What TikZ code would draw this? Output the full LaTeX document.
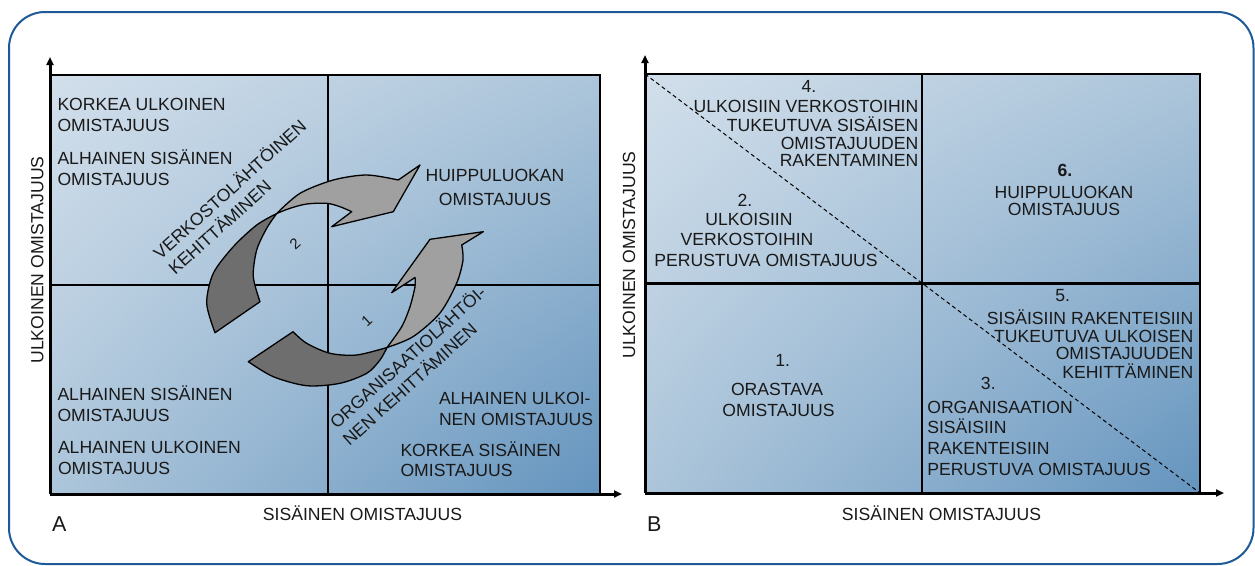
\documentclass[tikz,border=0pt]{standalone}
\usepackage{fontspec}
\setmainfont{Liberation Sans}
\usetikzlibrary{arrows.meta,shadings}
\definecolor{frameblue}{RGB}{31,90,152}
\definecolor{gtl}{RGB}{210,223,235}
\definecolor{gmid}{RGB}{172,197,218}
\definecolor{gbr}{RGB}{100,148,190}
\definecolor{arrdark}{RGB}{110,110,110}
\definecolor{arrlight}{RGB}{160,160,160}
\definecolor{inkc}{RGB}{25,25,25}
\newcommand{\fsz}{\fontsize{17.6}{21}\selectfont}
\newcommand{\UC}[1]{\MakeUppercase{#1}}
\begin{document}
\begin{tikzpicture}[x=1pt,y=-1pt,
  txt/.style={inner sep=0pt, outer sep=0pt, font=\fsz, text=inkc},
  bigtxt/.style={inner sep=0pt, outer sep=0pt, font=\fontsize{21.5}{24}\selectfont, text=inkc},
  numtxt/.style={inner sep=0pt, outer sep=0pt, font=\fontsize{15}{18}\selectfont, text=inkc},
  gridline/.style={line width=2.7pt, black},
  axisline/.style={line width=3pt, black, -{Triangle[length=8pt,width=7pt]}},
  diagline/.style={line width=1pt, black, dash pattern=on 4pt off 3pt},
  arrowpart/.style={draw=black, line width=1.3pt, line join=round},
  chartbg/.style={upper left=gtl, upper right=gmid, lower left=gmid, lower right=gbr}
]
\useasboundingbox (0,0) rectangle (1255,565);
\fill[white] (0,0) rectangle (1255,565);
\draw[frameblue, line width=2pt, rounded corners=36pt] (9,12) rectangle (1253.5,564);

% ---------------- Chart A ----------------
\shade[chartbg] (50,75) rectangle (600,494);
\draw[gridline] (50,75) -- (600,75) -- (600,494);
\draw[gridline] (328,75) -- (328,494);
\draw[gridline] (50,285) -- (600,285);
\coordinate (Ao) at (50,494);
\coordinate (Ay) at (50,57);
\coordinate (Ax) at (622,494);
\draw[axisline] (Ao) -- (Ay);
\draw[axisline] (Ao) -- (Ax);

% arrow 2 (upper)
\draw[arrowpart, fill=arrdark] (215,332.7) -- plot[smooth] coordinates {(260,301.7) (253.3,276.7) (256.7,250) (266.7,228.3) (276.7,213.5)} -- plot[smooth] coordinates {(276.7,213.5) (256.7,225) (233.3,246.7) (213.3,273.3) (206.7,303.3) (215,332.7)} -- cycle;
\draw[arrowpart, fill=arrlight] plot[smooth] coordinates {(276.7,213.5) (300,193.3) (333.3,180) (366.7,175) (398.3,180)} -- (420,165) -- (393.3,211.7) -- (331.7,226.7) -- plot[smooth] coordinates {(351.7,211.7) (340,206.7) (326.7,203.3) (306.7,204) (290,208.3) (276.7,213.5)} -- cycle;
% arrow 1 (lower)
\draw[arrowpart, fill=arrdark] (248.3,361.7) -- plot[smooth] coordinates {(293,331.7) (306.7,343.3) (330,353.3) (356.7,355) (387,347.5)} -- plot[smooth] coordinates {(387,347.5) (380,360) (366.7,373.3) (340,383.3) (306.7,385.7) (273.3,376.7) (248.3,361.7)} -- cycle;
\draw[arrowpart, fill=arrlight] plot[smooth] coordinates {(387,347.5) (401.7,326.7) (410,306.7) (415,286.7) (415,277.5)} -- (391.7,292.7) -- (430,239.3) -- (483.3,231.7) -- plot[smooth] coordinates {(461.7,245) (463,260) (456.7,283) (440,313) (413,336.7) (387,347.5)} -- cycle;
\node[numtxt, rotate=42] (n2) at (295,244) {2};
\node[numtxt, rotate=42] (n1) at (366.7,321) {1};

\node[txt, anchor=base west] (a1) at (57.5,110.7) {\UC{KORKEA ULKOINEN}};
\node[txt, anchor=base west] (a2) at (57.5,131.7) {\UC{OMISTAJUUS}};
\node[txt, anchor=base west] (a3) at (57.5,164) {\UC{ALHAINEN SISÄINEN}};
\node[txt, anchor=base west] (a4) at (57.5,185) {\UC{OMISTAJUUS}};
\node[txt, anchor=base] (a5) at (495,181.7) {\UC{HUIPPULUOKAN}};
\node[txt, anchor=base] (a6) at (495,205) {\UC{OMISTAJUUS}};
\node[txt, anchor=base west] (a7) at (57.5,400) {\UC{ALHAINEN SISÄINEN}};
\node[txt, anchor=base west] (a8) at (57.5,421.7) {\UC{OMISTAJUUS}};
\node[txt, anchor=base west] (a9) at (58,453) {\UC{ALHAINEN ULKOINEN}};
\node[txt, anchor=base west] (a10) at (58,474) {\UC{OMISTAJUUS}};
\node[txt, anchor=base west] (a11) at (439,404) {\UC{ALHAINEN ULKOI-}};
\node[txt, anchor=base west] (a12) at (439,425) {\UC{NEN OMISTAJUUS}};
\node[txt, anchor=base west] (a13) at (400.5,456) {\UC{KORKEA SISÄINEN}};
\node[txt, anchor=base west] (a14) at (400.5,476.7) {\UC{OMISTAJUUS}};
\node[txt, anchor=base, rotate=42] (r1) at (234,194) {\UC{VERKOSTOLÄHTÖINEN}};
\node[txt, anchor=base, rotate=42] (r2) at (224,232) {\UC{KEHITTÄMINEN}};
\node[txt, anchor=base, rotate=42] (r3) at (412,362) {\UC{ORGANISAATIOLÄHTÖI-}};
\node[txt, anchor=base, rotate=42] (r4) at (414,389) {\UC{NEN KEHITTÄMINEN}};
\node[txt, anchor=base] (ax) at (362.5,520.7) {\UC{SISÄINEN OMISTAJUUS}};
\node[txt, anchor=base, rotate=90] (ay) at (43.3,260) {\UC{ULKOINEN OMISTAJUUS}};
\node[bigtxt, anchor=base west] (labA) at (52,531.7) {A};

% ---------------- Chart B ----------------
\shade[chartbg] (645,74) rectangle (1200,493);
\draw[gridline] (645,74) -- (1200,74) -- (1200,493);
\draw[gridline] (922,74) -- (922,493);
\draw[gridline] (645,283.5) -- (1200,283.5);
\coordinate (Bo) at (645,493);
\coordinate (By) at (645,55);
\coordinate (Bx) at (1224,493);
\coordinate (Btl) at (645,74);
\coordinate (Bbr) at (1200,493);
\draw[diagline] (Btl) -- (Bbr);
\draw[axisline] (Bo) -- (By);
\draw[axisline] (Bo) -- (Bx);

\node[txt, anchor=base] (b4) at (809,92.7) {4.};
\node[txt, anchor=base east] (b4a) at (918.3,112) {\UC{ULKOISIIN VERKOSTOIHIN}};
\node[txt, anchor=base east] (b4b) at (918.3,131) {\UC{TUKEUTUVA SISÄISEN}};
\node[txt, anchor=base east] (b4c) at (918.3,149.3) {\UC{OMISTAJUUDEN}};
\node[txt, anchor=base east] (b4d) at (918.3,166.7) {\UC{RAKENTAMINEN}};

\node[txt, anchor=base] (b2) at (745,206.7) {2.};
\node[txt, anchor=base] (b2a) at (749,225) {\UC{ULKOISIIN}};
\node[txt, anchor=base] (b2b) at (747,245) {\UC{VERKOSTOIHIN}};
\node[txt, anchor=base] (b2c) at (766,266) {\UC{PERUSTUVA OMISTAJUUS}};

\node[txt, anchor=base, font=\fsz\bfseries] (b6) at (1065,176.7) {6.};
\node[txt, anchor=base] (b6a) at (1064,198.3) {\UC{HUIPPULUOKAN}};
\node[txt, anchor=base] (b6b) at (1064,215) {\UC{OMISTAJUUS}};

\node[txt, anchor=base] (b1) at (782.7,366) {1.};
\node[txt, anchor=base] (b1a) at (777,395) {\UC{ORASTAVA}};
\node[txt, anchor=base] (b1b) at (778.5,416.7) {\UC{OMISTAJUUS}};

\node[txt, anchor=base] (b5) at (1062.7,301.3) {5.};
\node[txt, anchor=base east] (b5a) at (1193.3,324) {\UC{SISÄISIIN RAKENTEISIIN}};
\node[txt, anchor=base east] (b5b) at (1193.3,342) {\UC{TUKEUTUVA ULKOISEN}};
\node[txt, anchor=base east] (b5c) at (1193.3,359.7) {\UC{OMISTAJUUDEN}};
\node[txt, anchor=base east] (b5d) at (1193.3,378.7) {\UC{KEHITTÄMINEN}};

\node[txt, anchor=base] (b3) at (988.3,389.3) {3.};
\node[txt, anchor=base west] (b3a) at (927.3,413.3) {\UC{ORGANISAATION}};
\node[txt, anchor=base west] (b3b) at (927.3,433.3) {\UC{SISÄISIIN}};
\node[txt, anchor=base west] (b3c) at (927.3,454.3) {\UC{RAKENTEISIIN}};
\node[txt, anchor=base west] (b3d) at (927.3,475) {\UC{PERUSTUVA OMISTAJUUS}};

\node[txt, anchor=base] (bx) at (941.5,520) {\UC{SISÄINEN OMISTAJUUS}};
\node[txt, anchor=base, rotate=90] (by) at (635,255) {\UC{ULKOINEN OMISTAJUUS}};
\node[bigtxt, anchor=base west] (labB) at (647,531.7) {B};
\end{tikzpicture}
\end{document}
